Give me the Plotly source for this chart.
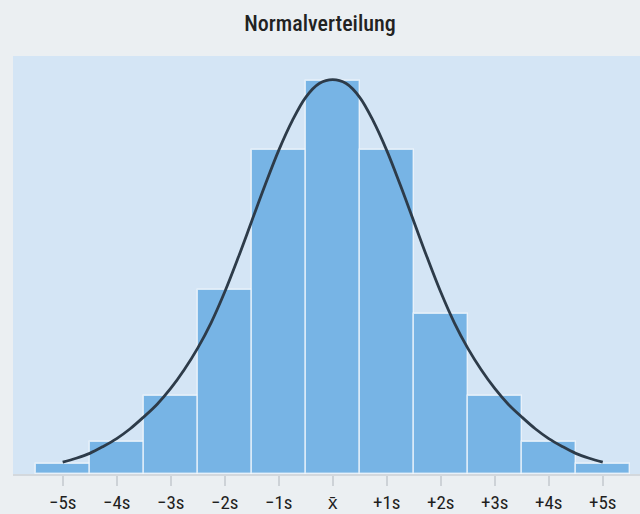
import plotly.graph_objects as go

# Histogram bars (position in units of s, height in arbitrary count units)
bar_pos = [-5, -4, -3, -2, -1, 0, 1, 2, 3, 4, 5]
bar_val = [1.0, 3.3, 7.9, 18.7, 32.9, 40.0, 32.9, 16.3, 7.9, 3.3, 1.0]

# Curve
curve_x = [-5, -4.75, -4.5, -4.25, -4, -3.75, -3.5, -3.25, -3, -2.75, -2.5, -2.25, -2, -1.75,
           -1.5, -1.25, -1, -0.75, -0.5, -0.25, 0, 0.25, 0.5, 0.75, 1, 1.25, 1.5, 1.75, 2,
           2.25, 2.5, 2.75, 3, 3.25, 3.5, 3.75, 4, 4.25, 4.5, 4.75, 5]
curve_y = [1.2, 1.6, 2.1, 2.8, 3.6, 4.6, 5.8, 7.1, 8.7, 10.6, 12.8, 15.4, 18.5, 22.0,
           25.7, 29.4, 32.9, 35.9, 38.3, 39.7, 40.1, 39.7, 38.3, 35.9, 32.9, 29.4, 25.7, 22.0, 18.5,
           15.4, 12.8, 10.6, 8.7, 7.1, 5.8, 4.6, 3.6, 2.8, 2.1, 1.6, 1.2]

tick_vals = [-5, -4, -3, -2, -1, 0, 1, 2, 3, 4, 5]
tick_text = ["\u22125s", "\u22124s", "\u22123s", "\u22122s", "\u22121s", "x\u0304",
             "+1s", "+2s", "+3s", "+4s", "+5s"]

FONT = "Liberation Sans Narrow, Roboto Condensed, Roboto, sans-serif"

fig = go.Figure()
fig.add_trace(go.Bar(
    x=bar_pos, y=bar_val, width=1,
    marker=dict(color="#77b4e5", line=dict(color="rgba(255,255,255,0.65)", width=1.5)),
    hoverinfo="skip", showlegend=False,
))
fig.add_trace(go.Scatter(
    x=curve_x, y=curve_y, mode="lines",
    line=dict(color="#2d3b49", width=2.8, shape="spline", smoothing=1.0),
    hoverinfo="skip", showlegend=False,
))

fig.update_layout(
    width=640, height=514,
    paper_bgcolor="#ebeff2",
    plot_bgcolor="#d4e5f5",
    margin=dict(l=13, r=0, t=56, b=40),
    bargap=0,
    title=dict(text="Normalverteilung", x=0.5, xanchor="center", y=0.955, yanchor="middle",
               font=dict(family=FONT, size=22, color="#222222", weight=500)),
    font=dict(family=FONT, size=19, color="#1f1f1f"),
    xaxis=dict(range=[-5.92, 5.69], tickmode="array", tickvals=tick_vals, ticktext=tick_text,
               showgrid=False, zeroline=False, showline=True, linecolor="#d3d8dd", linewidth=2,
               ticks="outside", ticklen=10, tickcolor="#cdd2d7", tickwidth=1.5,
               fixedrange=True),
    yaxis=dict(range=[0, 42.5], visible=False, showgrid=False, zeroline=False, fixedrange=True),
)

fig.write_html("out.html", config={"displayModeBar": False},
               post_script="document.body.style.margin='0';document.body.style.padding='0';")
